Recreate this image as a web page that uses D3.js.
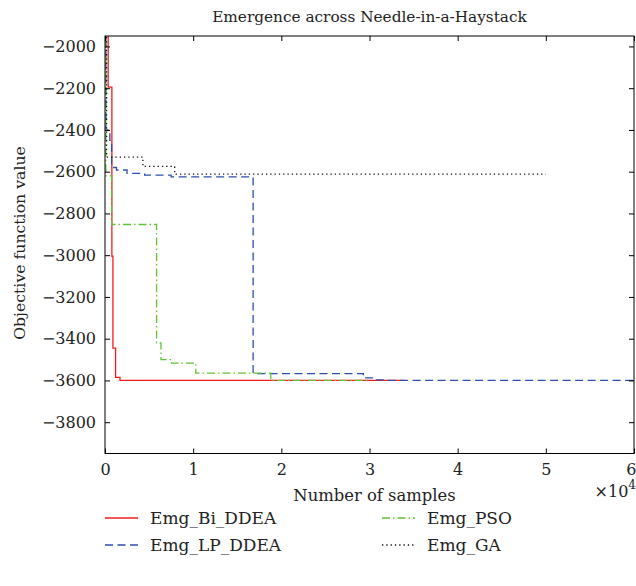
<!DOCTYPE html>
<html>
<head>
<meta charset="utf-8">
<script src="https://cdn.jsdelivr.net/npm/d3@7"></script>
<style>
  html, body { margin: 0; padding: 0; background: #fff; }
  svg text { font-family: "DejaVu Serif", "Liberation Serif", serif; fill: #222; }
</style>
</head>
<body>
<svg id="chart" width="636" height="586"></svg>
<script>
// Convergence traces: number of samples vs. best objective value (step-wise)
const seriesNames = ["Emg_Bi_DDEA", "Emg_LP_DDEA", "Emg_PSO", "Emg_GA"];

const biDdeaSamples = [0, 360, 780, 900, 1200, 1700, 34000];
const biDdeaValues  = [-1900, -2195, -3005, -3445, -3585, -3600, -3600];

const lpDdeaSamples = [0, 100, 550, 750, 1300, 2500, 4500, 7500, 16800, 29300, 30500, 32000, 60000];
const lpDdeaValues  = [-1900, -2400, -2450, -2580, -2592, -2608, -2616, -2625, -3567, -3588, -3597, -3600, -3600];

const psoSamples = [0, 100, 750, 5850, 6350, 7550, 10300, 18800, 30000];
const psoValues  = [-1900, -2620, -2853, -3420, -3500, -3517, -3565, -3600, -3600];

const gaSamples = [0, 180, 4300, 7900, 50000];
const gaValues  = [-1900, -2530, -2575, -2612, -2612];

const xTicks = [0, 10000, 20000, 30000, 40000, 50000, 60000];
const xTickLabels = ["0", "1", "2", "3", "4", "5", "6"];
const yTicks = [-2000, -2200, -2400, -2600, -2800, -3000, -3200, -3400, -3600, -3800];

const seriesStyle = [
  { color: "#f21c1c", dash: null },
  { color: "#2b4fae", dash: "8,4.5" },
  { color: "#62c235", dash: "8,3,1.5,3" },
  { color: "#111111", dash: "1.3,3" }
];

const series = [
  { samples: biDdeaSamples, values: biDdeaValues },
  { samples: lpDdeaSamples, values: lpDdeaValues },
  { samples: psoSamples, values: psoValues },
  { samples: gaSamples, values: gaValues }
].map((s, i) => ({
  name: seriesNames[i],
  ...seriesStyle[i],
  points: s.samples.map((x, j) => ({ x, y: s.values[j] }))
}));

const svg = d3.select("#chart");
const plot = { left: 105, right: 634, top: 36, bottom: 453.5 };

const x = d3.scaleLinear().domain([0, 60000]).range([plot.left, plot.right]);
const y = d3.scaleLinear().domain([-3950, -1950]).range([plot.bottom, plot.top]);

svg.append("defs").append("clipPath").attr("id", "plotClip")
  .append("rect")
  .attr("x", plot.left).attr("y", plot.top)
  .attr("width", plot.right - plot.left).attr("height", plot.bottom - plot.top);

// Traces
const line = d3.line().x(d => x(d.x)).y(d => y(d.y)).curve(d3.curveStepAfter);
const traces = svg.append("g").attr("clip-path", "url(#plotClip)");
series.forEach(s => {
  traces.append("path")
    .datum(s.points)
    .attr("d", line)
    .attr("fill", "none")
    .attr("stroke", s.color)
    .attr("stroke-width", 1.3)
    .attr("stroke-dasharray", s.dash);
});

// Box axes with inward ticks on all four sides
const tickLen = 5;
const fmtMinus = v => (v < 0 ? "\u2212" + Math.abs(v) : String(v));

const axBottom = d3.axisBottom(x).tickValues(xTicks).tickSize(-tickLen).tickPadding(10)
  .tickFormat((d, i) => xTickLabels[i]);
const axTop = d3.axisTop(x).tickValues(xTicks).tickSize(-tickLen).tickFormat("");
const axLeft = d3.axisLeft(y).tickValues(yTicks).tickSize(-tickLen).tickPadding(9)
  .tickFormat(fmtMinus);
const axRight = d3.axisRight(y).tickValues(yTicks).tickSize(-tickLen).tickFormat("");

function styleAxis(g) {
  g.select(".domain").remove();
  g.selectAll(".tick line").attr("stroke", "#000").attr("stroke-width", 1);
  g.selectAll(".tick text").attr("font-size", 16).style("font-family", '"DejaVu Serif", serif').attr("fill", "#222");
}

const gBottom = svg.append("g").attr("transform", `translate(0,${plot.bottom})`).call(axBottom).call(styleAxis);
// keep the last x label inside the canvas edge
gBottom.selectAll(".tick text").filter(d => d === xTicks[xTicks.length - 1])
  .attr("text-anchor", "end").attr("dx", 2);
svg.append("g").attr("transform", `translate(0,${plot.top})`).call(axTop).call(styleAxis);
svg.append("g").attr("transform", `translate(${plot.left},0)`).call(axLeft).call(styleAxis);
svg.append("g").attr("transform", `translate(${plot.right},0)`).call(axRight).call(styleAxis);

svg.append("rect")
  .attr("x", plot.left).attr("y", plot.top)
  .attr("width", plot.right - plot.left).attr("height", plot.bottom - plot.top)
  .attr("fill", "none").attr("stroke", "#000").attr("stroke-width", 1);

// Titles
svg.append("text")
  .attr("x", (plot.left + plot.right) / 2).attr("y", 22)
  .attr("text-anchor", "middle").attr("font-size", 15.3)
  .text("Emergence across Needle-in-a-Haystack");

svg.append("text")
  .attr("x", (plot.left + plot.right) / 2 + 5).attr("y", 501)
  .attr("text-anchor", "middle").attr("font-size", 16.4)
  .text("Number of samples");

svg.append("text")
  .attr("transform", `translate(25,${243}) rotate(-90)`)
  .attr("text-anchor", "middle").attr("font-size", 15.7)
  .text("Objective function value");

// Exponent of the x axis
const expo = svg.append("text").attr("x", 636).attr("y", 497).attr("text-anchor", "end").attr("font-size", 16);
expo.append("tspan").text("\u00d710");
expo.append("tspan").attr("dy", -8).attr("font-size", 12).text("4");

// Legend (two columns, two rows)
const legendPos = [
  { lx: 105, ly: 518 },
  { lx: 105, ly: 545 },
  { lx: 382, ly: 518 },
  { lx: 382, ly: 545 }
];
series.forEach((s, i) => {
  const p = legendPos[i];
  svg.append("line")
    .attr("x1", p.lx).attr("x2", p.lx + 33)
    .attr("y1", p.ly).attr("y2", p.ly)
    .attr("stroke", s.color).attr("stroke-width", 1.3)
    .attr("stroke-dasharray", s.dash);
  svg.append("text")
    .attr("x", p.lx + 45).attr("y", p.ly + 6)
    .attr("font-size", 17)
    .text(s.name);
});
</script>
</body>
</html>
